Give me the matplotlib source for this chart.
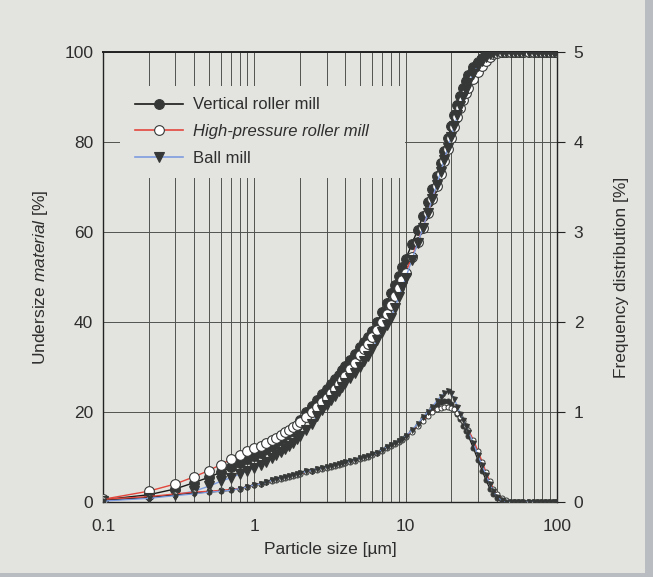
import matplotlib
matplotlib.use("Agg")
import matplotlib.pyplot as plt
from matplotlib.lines import Line2D
from matplotlib.patches import Rectangle

FONT = "Liberation Sans"
plt.rcParams['font.family'] = [FONT, 'DejaVu Sans']
plt.rcParams['mathtext.fontset'] = 'custom'
plt.rcParams['mathtext.rm'] = FONT
plt.rcParams['mathtext.it'] = FONT + ':italic'

# particle size classes [um]
size_um = [0.1, 0.2, 0.3, 0.4, 0.5, 0.6, 0.7, 0.8, 0.9, 1.0,
           1.1, 1.2, 1.3, 1.4, 1.5, 1.6, 1.7, 1.8, 1.9, 2.0,
           2.2, 2.4, 2.6, 2.8, 3.0, 3.2, 3.4, 3.6, 3.8, 4.0,
           4.3, 4.6, 5.0, 5.3, 5.6, 6.0, 6.5, 7.0, 7.5, 8.0,
           8.5, 9.0, 9.5, 10, 11, 12, 13, 14, 15, 16,
           17, 18, 19, 20, 21, 22, 23, 24, 25, 26,
           28, 30, 32, 34, 36, 38, 40, 43, 46, 50,
           53, 56, 60, 65, 70, 75, 80, 85, 90, 95, 100]

# undersize material [%]
cum_vrm = [0.5, 1.6, 2.9, 4.3, 5.5, 6.6, 7.8, 8.7, 9.5, 10.3,
           11.0, 11.8, 12.5, 13.3, 14.0, 14.8, 15.5, 16.3, 17.0, 18.3,
           19.9, 21.3, 22.6, 23.9, 25.1, 26.2, 27.3, 28.3, 29.3, 30.2,
           31.5, 32.8, 34.4, 35.5, 36.6, 38.0, 40.0, 42.2, 44.3, 46.4,
           48.3, 50.3, 52.2, 54.0, 57.3, 60.5, 63.5, 66.6, 69.6, 72.5,
           75.3, 78.0, 80.8, 83.5, 86.0, 88.3, 90.2, 92.0, 93.6, 94.9,
           96.6, 97.8, 98.7, 99.3, 99.7, 99.9, 100, 100, 100, 100,
           100, 100, 100, 100, 100, 100, 100, 100, 100, 100, 100]
cum_hprm = [0.6, 2.4, 4.0, 5.6, 7.0, 8.3, 9.5, 10.5, 11.4, 12.0,
            12.5, 13.1, 13.7, 14.3, 14.9, 15.5, 16.0, 16.6, 17.2, 17.8,
            19.0, 20.1, 21.2, 22.2, 23.2, 24.2, 25.2, 26.2, 27.2, 28.1,
            29.6, 31.0, 32.7, 33.9, 35.1, 36.6, 38.3, 39.9, 41.8, 43.8,
            45.7, 47.5, 49.3, 51.0, 54.4, 57.8, 61.0, 64.2, 67.3, 70.2,
            73.0, 75.7, 78.4, 80.9, 83.3, 85.5, 87.5, 89.3, 90.8, 92.1,
            93.9, 95.6, 97.0, 98.1, 98.9, 99.5, 99.8, 100, 100, 100,
            100, 100, 100, 100, 100, 100, 100, 100, 100, 100, 100]
cum_ball = [0.3, 1.0, 1.6, 2.4, 3.5, 4.6, 5.4, 6.2, 6.9, 7.6,
            8.3, 9.0, 9.7, 10.4, 11.1, 11.8, 12.5, 13.2, 13.9, 14.6,
            16.0, 17.4, 19.2, 20.4, 21.5, 22.6, 23.6, 24.6, 25.6, 26.5,
            27.5, 28.7, 30.1, 31.3, 32.5, 34.1, 36.0, 37.8, 39.4, 40.9,
            43.2, 45.5, 47.7, 49.8, 53.8, 57.5, 60.9, 64.2, 67.4, 70.4,
            73.3, 76.1, 78.7, 81.2, 83.6, 85.9, 88.0, 89.9, 91.6, 93.1,
            95.2, 96.9, 98.1, 98.9, 99.5, 99.8, 100, 100, 100, 100,
            100, 100, 100, 100, 100, 100, 100, 100, 100, 100, 100]

# frequency distribution [%]
freq_vrm = [0.02, 0.05, 0.08, 0.10, 0.11, 0.12, 0.13, 0.15, 0.17, 0.19,
            0.20, 0.22, 0.24, 0.26, 0.27, 0.28, 0.29, 0.30, 0.31, 0.32,
            0.34, 0.35, 0.37, 0.38, 0.39, 0.40, 0.41, 0.42, 0.43, 0.44,
            0.46, 0.47, 0.49, 0.50, 0.51, 0.53, 0.55, 0.58, 0.61, 0.63,
            0.66, 0.68, 0.70, 0.73, 0.79, 0.86, 0.93, 0.99, 1.04, 1.08,
            1.11, 1.12, 1.12, 1.09, 1.04, 0.98, 0.92, 0.85, 0.79, 0.73,
            0.60, 0.47, 0.35, 0.24, 0.15, 0.09, 0.04, 0.01, 0, 0,
            0, 0, 0, 0, 0, 0, 0, 0, 0, 0, 0]
freq_hprm = [0.03, 0.06, 0.09, 0.11, 0.12, 0.13, 0.14, 0.15, 0.17, 0.19,
             0.20, 0.22, 0.23, 0.25, 0.26, 0.27, 0.28, 0.29, 0.30, 0.31,
             0.33, 0.34, 0.36, 0.37, 0.38, 0.39, 0.40, 0.41, 0.42, 0.43,
             0.45, 0.46, 0.48, 0.49, 0.50, 0.52, 0.54, 0.57, 0.60, 0.62,
             0.65, 0.67, 0.69, 0.72, 0.78, 0.84, 0.90, 0.96, 1.00, 1.03,
             1.05, 1.06, 1.06, 1.05, 1.03, 0.99, 0.95, 0.90, 0.85, 0.80,
             0.69, 0.57, 0.45, 0.33, 0.23, 0.15, 0.09, 0.05, 0.02, 0,
             0, 0, 0, 0, 0, 0, 0, 0, 0, 0, 0]
freq_ball = [0.01, 0.04, 0.07, 0.09, 0.11, 0.12, 0.13, 0.15, 0.17, 0.19,
             0.20, 0.22, 0.24, 0.26, 0.27, 0.28, 0.29, 0.30, 0.31, 0.32,
             0.34, 0.35, 0.37, 0.38, 0.39, 0.40, 0.41, 0.42, 0.43, 0.44,
             0.46, 0.47, 0.49, 0.50, 0.51, 0.53, 0.55, 0.58, 0.61, 0.63,
             0.66, 0.68, 0.70, 0.73, 0.80, 0.87, 0.94, 1.00, 1.06, 1.12,
             1.17, 1.21, 1.23, 1.21, 1.14, 1.06, 0.98, 0.91, 0.84, 0.78,
             0.66, 0.52, 0.41, 0.30, 0.20, 0.12, 0.06, 0.02, 0, 0,
             0, 0, 0, 0, 0, 0, 0, 0, 0, 0, 0]

labels = ['Vertical roller mill', 'High-pressure roller mill', 'Ball mill']

BG = '#e3e4df'
MK = '#353836'
TXT = '#2e2e2e'
GRID = '#505350'
line_colors = ['#1a1a1a', '#e2463c', '#7d9ce0']

fig = plt.figure(figsize=(6.53, 5.77), dpi=100, facecolor=BG)
ax = fig.add_axes([103 / 653, 75 / 577, 454 / 653, 450 / 577])
ax.set_facecolor(BG)
ax.set_xscale('log')
ax.set_xlim(0.1, 100)
ax.set_ylim(0, 100)

ax.set_axisbelow(True)
ax.grid(True, which='both', axis='x', color=GRID, lw=0.7)
ax.grid(True, which='major', axis='y', color=GRID, lw=0.7)
ax.tick_params(which='both', length=0, labelsize=12.5, colors=TXT)
ax.tick_params(axis='x', pad=12)
ax.tick_params(axis='y', pad=7)
ax.set_xticks([0.1, 1, 10, 100])
ax.set_xticklabels(['0.1', '1', '10', '100'])
ax.set_yticks([0, 20, 40, 60, 80, 100])
for s in ax.spines.values():
    s.set_color('#222222')
    s.set_linewidth(1.0)
ax.spines['top'].set_linewidth(1.4)

# blank box behind the legend
ax.add_patch(Rectangle((0.037, 0.72), 0.628, 0.205, transform=ax.transAxes,
                       facecolor=BG, edgecolor='none', zorder=1))

styles = [dict(marker='o', mfc=MK), dict(marker='o', mfc='white'),
          dict(marker='v', mfc=MK)]
cums = [cum_vrm, cum_hprm, cum_ball]
for cum, col, st in zip(cums, line_colors, styles):
    ax.plot(size_um, cum, color=col, lw=1.0, marker=st['marker'], ms=7,
            mfc=st['mfc'], mec=MK, mew=0.8, zorder=3)

ax2 = ax.twinx()
ax2.set_ylim(0, 5)
ax2.set_yticks([0, 1, 2, 3, 4, 5])
ax2.tick_params(axis='y', length=6, width=0.8, labelsize=12.5, colors=TXT, pad=6)
ax2.tick_params(axis='y', color='#222222')
for s in ax2.spines.values():
    s.set_visible(False)
freqs = [freq_vrm, freq_hprm, freq_ball]
for fr, col, st in zip(freqs, line_colors, styles):
    ax2.plot(size_um, fr, color=col, lw=0.9, marker=st['marker'], ms=3.6,
             mfc=st['mfc'], mec=MK, mew=0.7, zorder=3)

ax.set_xlabel('Particle size [µm]', fontsize=12.5, color=TXT, labelpad=6)
ax.set_ylabel(r'Undersize $\it{material}$ [%]', fontsize=12.5, color=TXT, labelpad=10)
ax2.set_ylabel('Frequency distribution [%]', fontsize=12.5, color=TXT, labelpad=22)

handles = [Line2D([], [], color=c, lw=1.2, marker=st['marker'], ms=7,
                  mfc=st['mfc'], mec=MK, mew=0.8)
           for c, st in zip(line_colors, styles)]
leg = ax.legend(handles, labels, loc='upper left', bbox_to_anchor=(0.055, 0.914),
                frameon=False, fontsize=12, handlelength=2.9, handletextpad=0.6,
                labelspacing=0.7, borderaxespad=0)
for t in leg.get_texts():
    t.set_color(TXT)
leg.get_texts()[1].set_style('italic')

# scanned page edge
fig.patches.append(Rectangle((645 / 653, 0), 8 / 653, 1, transform=fig.transFigure,
                             facecolor='#b9bcc0', edgecolor='none'))
fig.patches.append(Rectangle((0, 0), 1, 4 / 577, transform=fig.transFigure,
                             facecolor='#b9bcc0', edgecolor='none'))

fig.savefig('out.png', dpi=100, facecolor=BG)
